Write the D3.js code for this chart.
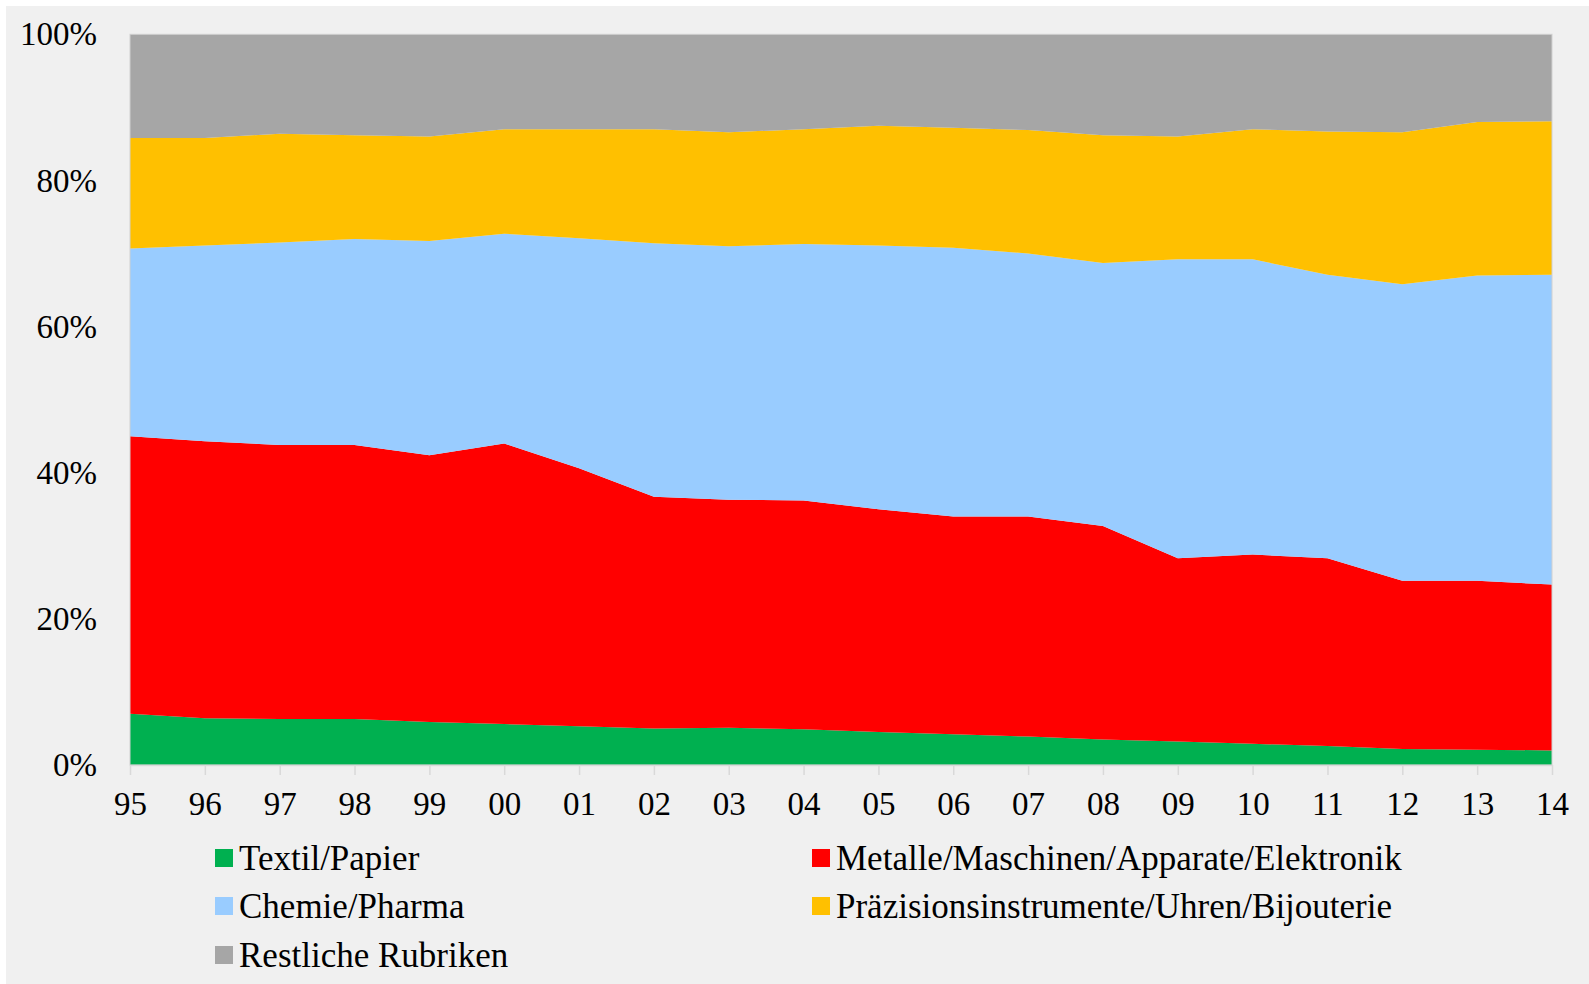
<!DOCTYPE html>
<html>
<head>
<meta charset="utf-8">
<script src="https://cdn.jsdelivr.net/npm/d3@7"></script>
<style>
    body { margin: 0; background: #ffffff; }
    svg { display: block; }
    .axis text { font-family: "Liberation Serif", "Times New Roman", serif; font-size: 33px; fill: #000; }
    .legend text { font-family: "Liberation Serif", "Times New Roman", serif; font-size: 35px; fill: #000; }
</style>
</head>
<body>
<div class="chart"></div>
<script>
// Data (shares in %)
const years = ['95','96','97','98','99','00','01','02','03','04','05','06','07','08','09','10','11','12','13','14'];

const textil    = [7.0, 6.4, 6.3, 6.3, 5.9, 5.6, 5.3, 5.0, 5.1, 4.9, 4.5, 4.2, 3.9, 3.5, 3.2, 2.9, 2.6, 2.2, 2.1, 2.0];
const metalle   = [38.0, 37.9, 37.5, 37.5, 36.5, 38.4, 35.3, 31.7, 31.2, 31.3, 30.5, 29.8, 30.1, 29.2, 25.1, 25.9, 25.7, 23.0, 23.1, 22.7];
const chemie    = [25.7, 26.8, 27.7, 28.2, 29.3, 28.7, 31.5, 34.7, 34.7, 35.1, 36.1, 36.8, 36.0, 36.0, 40.9, 40.4, 38.8, 40.6, 41.8, 42.4];
const praezision= [15.1, 14.7, 14.9, 14.2, 14.3, 14.3, 14.9, 15.6, 15.6, 15.7, 16.4, 16.4, 16.9, 17.5, 16.8, 17.8, 19.6, 20.8, 21.0, 21.0];
const restliche = [14.2, 14.2, 13.6, 13.8, 14.0, 13.0, 13.0, 13.0, 13.4, 13.0, 12.5, 12.8, 13.1, 13.8, 14.0, 13.0, 13.3, 13.4, 12.0, 11.9];

const seriesNames = [
    'Textil/Papier',
    'Metalle/Maschinen/Apparate/Elektronik',
    'Chemie/Pharma',
    'Präzisionsinstrumente/Uhren/Bijouterie',
    'Restliche Rubriken'
];
const seriesValues = [textil, metalle, chemie, praezision, restliche];
const colors = ['#00b050', '#ff0000', '#99ccff', '#ffc000', '#a6a6a6'];

const yTicks = [0, 20, 40, 60, 80, 100];

// Table for d3.stack
const table = years.map((y, i) => {
    const row = {year: y};
    seriesNames.forEach((name, k) => { row[name] = seriesValues[k][i]; });
    return row;
});

// Layout
const W = 1589, H = 984;
const plot = {left: 130, right: 1552, top: 34.3, bottom: 765};

const svg = d3.select('.chart')
    .append('svg')
    .attr('width', W)
    .attr('height', H);

// Panel background
svg.append('rect')
    .attr('x', 6).attr('y', 6)
    .attr('width', W - 6).attr('height', H - 6)
    .attr('fill', '#f0f0f0');

// Scales
const xScale = d3.scalePoint()
    .domain(years)
    .range([plot.left, plot.right]);

const yScale = d3.scaleLinear()
    .domain([0, 100])
    .range([plot.bottom, plot.top]);

// Stack and areas
const stacked = d3.stack()
    .keys(seriesNames)
    .offset(d3.stackOffsetExpand)(table);

const area = d3.area()
    .x(d => xScale(d.data.year))
    .y0(d => yScale(d[0] * 100))
    .y1(d => yScale(d[1] * 100));

svg.append('g')
    .selectAll('path')
    .data(stacked)
    .enter()
    .append('path')
    .attr('d', area)
    .attr('fill', (d, i) => colors[i]);

// Plot border
svg.append('rect')
    .attr('x', plot.left).attr('y', plot.top)
    .attr('width', plot.right - plot.left)
    .attr('height', plot.bottom - plot.top)
    .attr('fill', 'none')
    .attr('stroke', '#d0d0d0')
    .attr('stroke-width', 1);

// Axes
const xAxis = d3.axisBottom(xScale)
    .tickSizeInner(10)
    .tickSizeOuter(0);

const xAxisDraw = svg.append('g')
    .attr('class', 'x axis')
    .attr('transform', `translate(0, ${plot.bottom})`)
    .call(xAxis);

xAxisDraw.select('.domain').attr('stroke', '#d9d9d9').attr('stroke-width', 1.5);
xAxisDraw.selectAll('.tick line').attr('stroke', '#d9d9d9').attr('stroke-width', 1.5);
xAxisDraw.selectAll('text').attr('y', 50).attr('dy', 0);

const yAxis = d3.axisLeft(yScale)
    .tickValues(yTicks)
    .tickFormat(d => d + '%')
    .tickSize(0)
    .tickPadding(33);

const yAxisDraw = svg.append('g')
    .attr('class', 'y axis')
    .attr('transform', `translate(${plot.left}, 0)`)
    .call(yAxis);

yAxisDraw.select('.domain').remove();

// Legend
const legendPos = [
    {x: 215, y: 858},
    {x: 812, y: 858},
    {x: 215, y: 906},
    {x: 812, y: 906},
    {x: 215, y: 955}
];

const legend = svg.append('g')
    .attr('class', 'legend')
    .selectAll('g')
    .data(seriesNames)
    .enter()
    .append('g')
    .attr('transform', (d, i) => `translate(${legendPos[i].x}, ${legendPos[i].y})`);

legend.append('rect')
    .attr('x', 0).attr('y', -9)
    .attr('width', 18).attr('height', 18)
    .attr('fill', (d, i) => colors[i]);

legend.append('text')
    .attr('x', 24)
    .attr('y', 12)
    .text(d => d);
</script>
</body>
</html>
